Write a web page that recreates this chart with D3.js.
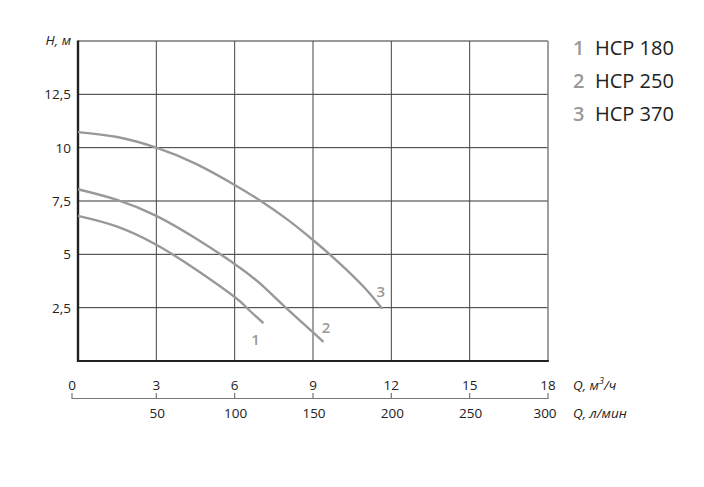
<!DOCTYPE html>
<html><head><meta charset="utf-8">
<script src="https://cdn.jsdelivr.net/npm/d3@7"></script>
<style>
body{margin:0;background:#fff;}
svg{display:block;font-family:"Open Sans",sans-serif;}
</style></head>
<body><svg id="c" width="704" height="487"></svg>
<script>
// Data
const qTicks = [0, 3, 6, 9, 12, 15, 18];
const lTicks = [0, 50, 100, 150, 200, 250, 300];
const hTicks = [2.5, 5, 7.5, 10, 12.5];
const seriesNames = ["HCP 180", "HCP 250", "HCP 370"];
const seriesIds = ["1", "2", "3"];
const hcp180 = [[0,6.8],[1.5,6.3],[3,5.45],[4.5,4.3],[6,3.0],[6.5,2.45],[7.1,1.78]];
const hcp250 = [[0,8.05],[1.5,7.55],[3,6.8],[4.5,5.75],[6,4.55],[7,3.6],[8,2.45],[9.4,0.9]];
const hcp370 = [[0,10.73],[1.5,10.5],[3,10.0],[4.5,9.25],[6,8.25],[7,7.5],[8,6.65],[9,5.67],[10,4.6],[11,3.4],[11.65,2.45]];
const curves = [hcp180, hcp250, hcp370];

const svg = d3.select("#c");
const L = 78, R = 548, T = 41, B = 361;
const x = d3.scaleLinear().domain([0, 18]).range([L, R]);
const xl = d3.scaleLinear().domain([0, 300]).range([L, R]);
const y = d3.scaleLinear().domain([0, 15]).range([B, T]);

// grid
const g = svg.append("g");
g.selectAll(".hg").data(hTicks.concat([15])).join("line")
  .attr("x1", L).attr("x2", R).attr("y1", d => y(d)).attr("y2", d => y(d))
  .attr("stroke", "#333").attr("stroke-width", 1);
g.selectAll(".vg").data(qTicks.filter(d => d > 0 && d < 18)).join("line")
  .attr("y1", T).attr("y2", B).attr("x1", d => x(d)).attr("x2", d => x(d))
  .attr("stroke", "#444").attr("stroke-width", 1);
// right border
g.append("line").attr("x1", R).attr("x2", R).attr("y1", T).attr("y2", B)
  .attr("stroke", "#888").attr("stroke-width", 1.6);
// left & bottom axes
g.append("line").attr("x1", L).attr("x2", L).attr("y1", T - 0.5).attr("y2", B + 1)
  .attr("stroke", "#222").attr("stroke-width", 2.4);
g.append("line").attr("x1", L - 1).attr("x2", R + 0.8).attr("y1", B).attr("y2", B)
  .attr("stroke", "#222").attr("stroke-width", 2.2);

// curves
const line = d3.line().x(d => x(d[0])).y(d => y(d[1])).curve(d3.curveNatural);
svg.selectAll(".curve").data(curves).join("path")
  .attr("d", line).attr("fill", "none").attr("stroke", "#999").attr("stroke-width", 2.4);

// curve labels
const lblPos = [[6.8, 1.05], [9.5, 1.6], [11.6, 3.3]];
svg.selectAll(".cl").data(seriesIds).join("text")
  .attr("x", (d, i) => x(lblPos[i][0])).attr("y", (d, i) => y(lblPos[i][1]))
  .attr("text-anchor", "middle").attr("dominant-baseline", "central")
  .attr("fill", "#999").attr("font-size", 15).attr("font-weight", 600).text(d => d);

// y labels
svg.selectAll(".yl").data(hTicks).join("text")
  .attr("x", 71).attr("y", d => y(d)).attr("text-anchor", "end")
  .attr("dominant-baseline", "central").attr("font-size", 13.5).attr("fill", "#222")
  .text(d => String(d).replace(".", ","));
svg.append("text").attr("x", 71).attr("y", 40).attr("text-anchor", "end")
  .attr("dominant-baseline", "central").attr("font-size", 13.5).attr("font-style", "italic")
  .attr("fill", "#222").text("H, м");

// x labels top row
const qPos = d => d === 0 ? 72 : x(d);
svg.selectAll(".xq").data(qTicks).join("text")
  .attr("x", qPos).attr("y", 385).attr("text-anchor", "middle")
  .attr("dominant-baseline", "central").attr("font-size", 13.5).attr("fill", "#222").text(d => d);
// secondary axis
const lPos = d => d === 0 ? 72 : xl(d);
svg.append("line").attr("x1", 72).attr("x2", R).attr("y1", 398.5).attr("y2", 398.5)
  .attr("stroke", "#777").attr("stroke-width", 1.2);
svg.selectAll(".lt").data(lTicks).join("line")
  .attr("x1", lPos).attr("x2", lPos).attr("y1", 393).attr("y2", 399)
  .attr("stroke", "#777").attr("stroke-width", 1.2);
svg.selectAll(".xlab").data(lTicks.filter(d => d > 0)).join("text")
  .attr("x", d => xl(d) + (d === 300 ? -3 : 1)).attr("y", 413).attr("text-anchor", "middle")
  .attr("dominant-baseline", "central").attr("font-size", 13.5).attr("fill", "#222").text(d => d);

// axis unit labels
const u1 = svg.append("text").attr("x", 573).attr("y", 385).attr("dominant-baseline", "central")
  .attr("font-size", 13.5).attr("font-style", "italic").attr("fill", "#222");
u1.append("tspan").text("Q, м");
u1.append("tspan").attr("font-size", 9).attr("dy", -5).text("3");
u1.append("tspan").attr("dy", 5).text("/ч");
svg.append("text").attr("x", 573).attr("y", 413).attr("dominant-baseline", "central")
  .attr("font-size", 13.5).attr("font-style", "italic").attr("fill", "#222").text("Q, л/мин");

// legend
const lg = svg.selectAll(".lg").data(seriesNames).join("g")
  .attr("transform", (d, i) => `translate(573,${47 + i * 33})`);
lg.append("text").attr("dominant-baseline", "central").attr("font-size", 20)
  .attr("fill", "#999").attr("font-weight", 600).text((d, i) => seriesIds[i]);
lg.append("text").attr("x", 22).attr("dominant-baseline", "central").attr("font-size", 20)
  .attr("fill", "#222").text(d => d);
</script></body></html>
